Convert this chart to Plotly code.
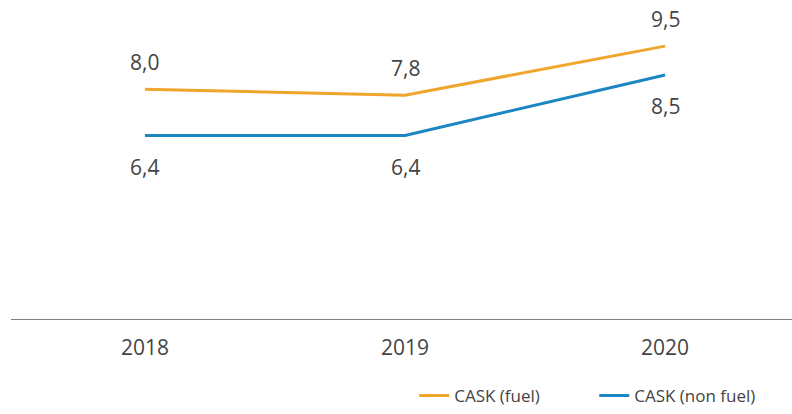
import plotly.graph_objects as go

years = ["2018", "2019", "2020"]
cask_fuel = [8.0, 7.8, 9.5]
cask_non_fuel = [6.4, 6.4, 8.5]

ORANGE = "#F0A52C"
BLUE = "#1B86C1"
TEXT = "#444444"
FONT = "Open Sans"

fig = go.Figure()
fig.add_trace(go.Scatter(
    x=years, y=cask_fuel, name="CASK (fuel)", mode="lines",
    line=dict(color=ORANGE, width=3), cliponaxis=False,
))
fig.add_trace(go.Scatter(
    x=years, y=cask_non_fuel, name="CASK (non fuel)", mode="lines",
    line=dict(color=BLUE, width=3), cliponaxis=False,
))

def fmt(v):
    return f"{v:.1f}".replace(".", ",")

for i, v in enumerate(cask_fuel):
    fig.add_annotation(x=i, y=v, text=fmt(v), showarrow=False, yshift=27,
                       font=dict(size=21, color=TEXT, family=FONT))
for i, v in enumerate(cask_non_fuel):
    fig.add_annotation(x=i, y=v, text=fmt(v), showarrow=False, yshift=-31,
                       font=dict(size=21, color=TEXT, family=FONT))

# baseline across the full plot width
fig.add_shape(type="line", xref="paper", yref="y", x0=0, x1=1, y0=0, y1=0,
              line=dict(color="#808080", width=2), layer="below")

fig.update_layout(
    width=792, height=414,
    margin=dict(l=11, r=0, t=0, b=94, autoexpand=False),
    paper_bgcolor="white", plot_bgcolor="white",
    font=dict(family=FONT, color=TEXT),
    showlegend=True,
    legend=dict(
        orientation="h", xref="container", yref="container",
        x=0.523, xanchor="left", y=0.0, yanchor="bottom",
        font=dict(size=17, color=TEXT, family=FONT),
        itemwidth=30, traceorder="normal",
        entrywidth=135, entrywidthmode="pixels",
    ),
)
fig.update_xaxes(
    type="category", range=[-0.515, 2.488],
    showgrid=False, zeroline=False, showline=False,
    ticks="outside", ticklen=9, tickcolor="rgba(0,0,0,0)",
    tickfont=dict(size=21, color=TEXT, family=FONT),
)
fig.update_yaxes(
    range=[0, 11.1], visible=False, showgrid=False, zeroline=False,
)

fig.write_html(
    "out.html",
    config={"displayModeBar": False},
    post_script="document.body.style.margin='0';document.body.style.overflow='hidden';",
)
